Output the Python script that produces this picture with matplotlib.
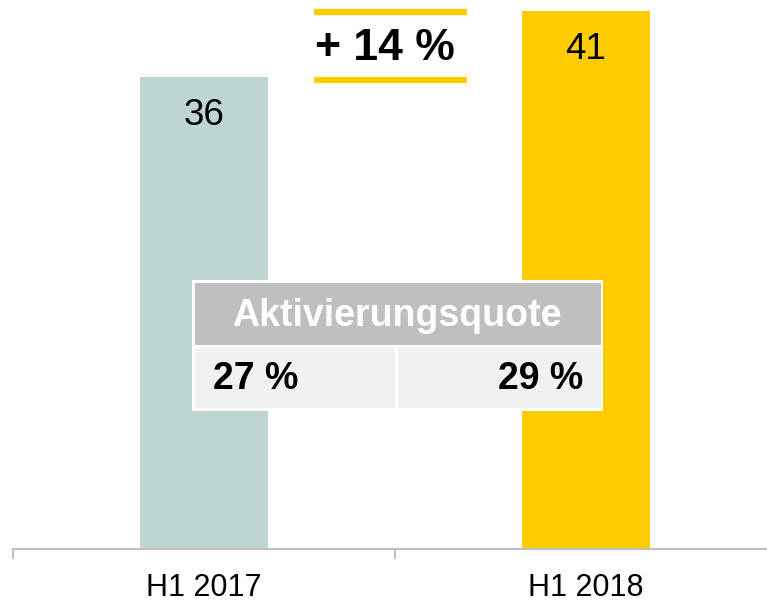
import matplotlib
matplotlib.use("Agg")
import matplotlib.pyplot as plt
from matplotlib.patches import Rectangle

plt.rcParams['font.family'] = ['Liberation Sans', 'DejaVu Sans']

# === Data ===
periods = ["H1 2017", "H1 2018"]
values = [36, 41]
bar_colors = ["#BDD6D3", "#FFCC00"]
quote_title = "Aktivierungsquote"
quotes = ["27 %", "29 %"]

growth = round((values[1] / values[0] - 1) * 100)
growth_label = f"+ {growth} %"

# === Figure ===
W, H = 767, 602
fig = plt.figure(figsize=(W / 100, H / 100), dpi=100)

px_per_unit = 13.12
base_y = 549
ax = fig.add_axes([13 / W, (H - base_y) / H, 764 / W, base_y / H])
x = list(range(len(periods)))
bars = ax.bar(x, values, width=0.335, color=bar_colors, zorder=2)
ax.set_xlim(-0.5, 1.5)
ax.set_ylim(0, base_y / px_per_unit)

for xi, v in zip(x, values):
    ax.annotate(str(v), (xi, v), xytext=(0, -28), textcoords="offset points",
                ha="center", va="center", fontsize=26.5, color="black")

for s in ["top", "left", "right"]:
    ax.spines[s].set_visible(False)
ax.spines["bottom"].set_color("#BFBFBF")
ax.spines["bottom"].set_linewidth(1.5)
ax.set_yticks([])
ax.set_xticks(x)
ax.set_xticklabels(periods, fontsize=22)
ax.tick_params(axis="x", which="major", length=0, pad=17)
ax.set_xticks([-0.5, 0.5, 1.5], minor=True)
ax.tick_params(axis="x", which="minor", length=7, width=1.5, color="#BFBFBF", direction="out")

# === Overlay in pixel coordinates ===
ov = fig.add_axes([0, 0, 1, 1])
ov.set_xlim(0, W)
ov.set_ylim(H, 0)
ov.axis("off")

# growth marker
ov.plot([314, 467], [12, 12], color="#FFCC00", lw=4.5, solid_capstyle="butt")
ov.plot([314, 467], [80, 80], color="#FFCC00", lw=4.5, solid_capstyle="butt")
ov.text(385, 48, growth_label, ha="center", va="center", fontsize=32,
        fontweight="bold", color="black")

# table
ov.add_patch(Rectangle((192, 280), 411, 131, facecolor="white", edgecolor="none", zorder=3))
ov.add_patch(Rectangle((195, 283), 406, 62, facecolor="#BFBFBF", edgecolor="none", zorder=4))
ov.add_patch(Rectangle((195, 348), 200, 60, facecolor="#F0F1F3", edgecolor="none", zorder=4))
ov.add_patch(Rectangle((398, 348), 203, 60, facecolor="#F0F1F3", edgecolor="none", zorder=4))
ov.text(397, 316, quote_title, ha="center", va="center", fontsize=27,
        fontweight="bold", color="white", zorder=5)
ov.text(213, 379, quotes[0], ha="left", va="center", fontsize=27,
        fontweight="bold", color="black", zorder=5)
ov.text(583, 379, quotes[1], ha="right", va="center", fontsize=27,
        fontweight="bold", color="black", zorder=5)

fig.savefig("out.png", dpi=100)
